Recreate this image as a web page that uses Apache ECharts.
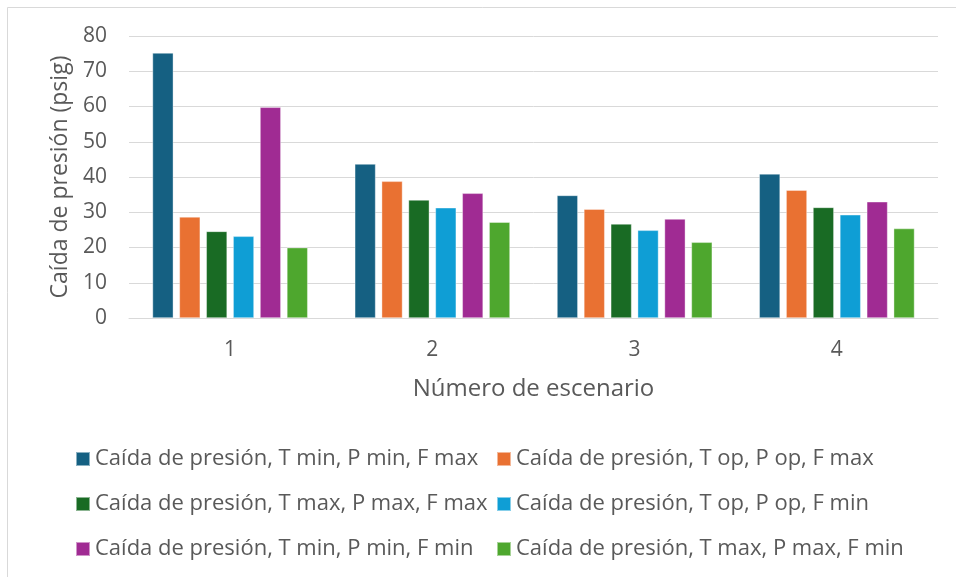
<!DOCTYPE html>
<html>
<head>
<meta charset="utf-8">
<script src="https://cdn.jsdelivr.net/npm/echarts@6/dist/echarts.min.js"></script>
<style>
  html, body { margin: 0; padding: 0; background: #fff; }
  #main { width: 956px; height: 577px; }
</style>
</head>
<body>
<div id="main"></div>
<script>
  // datos
  var escenarios = ['1', '2', '3', '4'];
  var nombres = [
    'Caída de presión, T min, P min, F max',
    'Caída de presión, T op, P op, F max',
    'Caída de presión, T max, P max, F max',
    'Caída de presión, T op, P op, F min',
    'Caída de presión, T min, P min, F min',
    'Caída de presión, T max, P max, F min'
  ];
  var tMinPMinFMax = [75.2, 43.7, 34.8, 40.9];
  var tOpPOpFMax = [28.7, 38.8, 30.9, 36.3];
  var tMaxPMaxFMax = [24.6, 33.5, 26.7, 31.4];
  var tOpPOpFMin = [23.2, 31.3, 24.9, 29.3];
  var tMinPMinFMin = [59.8, 35.4, 28.1, 33.0];
  var tMaxPMaxFMin = [20.0, 27.2, 21.5, 25.4];
  var colores = ['#156082', '#E97132', '#196B24', '#0F9ED5', '#A02B93', '#4EA72E'];

  var valores = [tMinPMinFMax, tOpPOpFMax, tMaxPMaxFMax, tOpPOpFMin, tMinPMinFMin, tMaxPMaxFMin];
  var fuente = 'Open Sans';
  var gris = '#595959';

  var series = valores.map(function (v, i) {
    return {
      name: nombres[i],
      type: 'bar',
      data: v,
      barWidth: 21,
      barGap: '28%',
      itemStyle: { color: colores[i], borderColor: 'rgba(255,255,255,0.5)', borderWidth: 0.75 }
    };
  });

  var leyenda = function (items, left) {
    return {
      data: items,
      orient: 'vertical',
      left: left,
      top: 448,
      padding: 0,
      itemWidth: 14,
      itemHeight: 14,
      itemGap: 23,
      icon: 'rect',
      textStyle: { color: gris, fontSize: 22, fontFamily: fuente, lineHeight: 22 }
    };
  };

  var myChart = echarts.init(document.getElementById('main'));
  myChart.setOption({
    animation: false,
    backgroundColor: '#fff',
    graphic: [{
      type: 'rect',
      shape: { x: 7.5, y: 7.5, width: 980, height: 600 },
      style: { fill: 'none', stroke: '#d9d9d9', lineWidth: 1 }
    }],
    grid: { left: 129, right: 18, top: 36, bottom: 259 },
    legend: [
      leyenda([nombres[0], nombres[2], nombres[4]], 75),
      leyenda([nombres[1], nombres[3], nombres[5]], 496)
    ],
    xAxis: {
      type: 'category',
      data: escenarios,
      name: 'Número de escenario',
      nameLocation: 'middle',
      nameGap: 59,
      nameTextStyle: { color: gris, fontSize: 24, fontFamily: fuente },
      axisLine: { lineStyle: { color: '#d9d9d9', width: 1 } },
      axisTick: { show: false },
      axisLabel: { color: gris, fontSize: 21, fontFamily: fuente, margin: 22 }
    },
    yAxis: {
      type: 'value',
      min: 0,
      max: 80,
      interval: 10,
      name: 'Caída de presión (psig)',
      nameLocation: 'middle',
      nameGap: 57,
      nameTextStyle: { color: gris, fontSize: 23, fontFamily: fuente },
      axisLine: { show: false },
      axisTick: { show: false },
      axisLabel: { color: gris, fontSize: 21, fontFamily: fuente, margin: 22 },
      splitLine: { lineStyle: { color: '#d9d9d9', width: 1 } }
    },
    series: series
  });
</script>
</body>
</html>
